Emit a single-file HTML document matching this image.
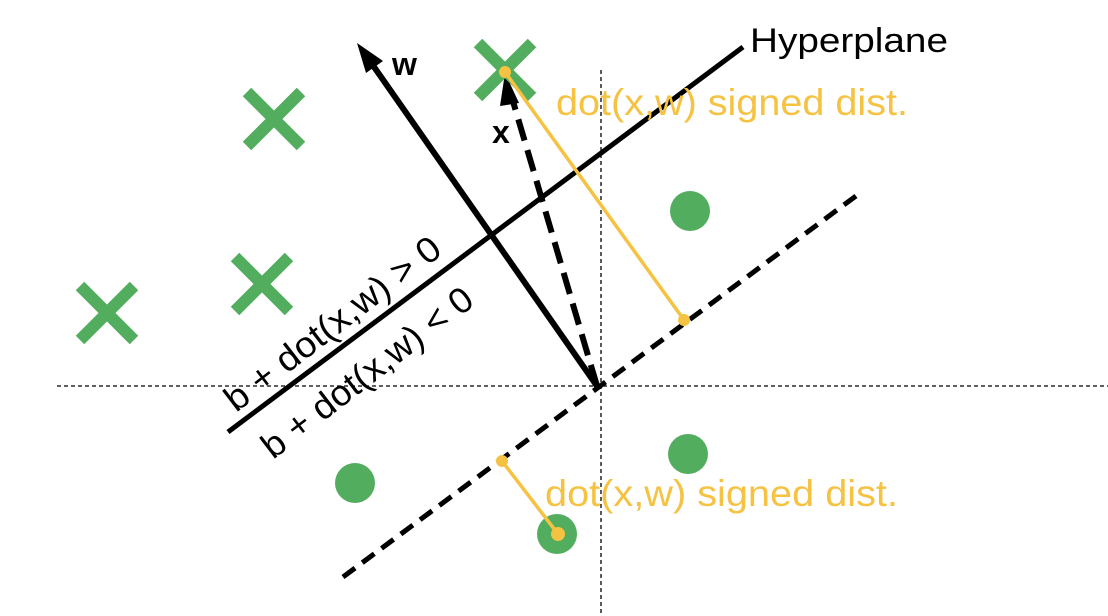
<!DOCTYPE html>
<html><head><style>html,body{margin:0;padding:0;background:#fff;}svg{display:block}</style></head>
<body>
<svg width="1108" height="616" viewBox="0 0 1108 616" xmlns="http://www.w3.org/2000/svg">
<g stroke="#000" stroke-width="1.3" stroke-dasharray="4,3">
<line x1="57" y1="386" x2="1108" y2="386"/>
<line x1="601" y1="70" x2="601" y2="616"/>
</g>
<line x1="228" y1="432" x2="743" y2="47" stroke="#000" stroke-width="5"/>
<line x1="343" y1="577" x2="860" y2="193" stroke="#000" stroke-width="5" stroke-dasharray="15,9"/>
<line x1="597" y1="386" x2="372" y2="64" stroke="#000" stroke-width="6"/>
<polygon points="357,43 383,61 366,73" fill="#000"/>
<line x1="597" y1="386" x2="512" y2="98" stroke="#000" stroke-width="6" stroke-dasharray="22,10"/>
<polygon points="505,73 519,103 500,106" fill="#000"/>
<g stroke="#52ad5e" stroke-width="12">
<path d="M247,92 L301,146 M301,92 L247,146"/>
<path d="M235,257 L289,311 M289,257 L235,311"/>
<path d="M80,286 L134,340 M134,286 L80,340"/>
<path d="M478,43 L532,97 M532,43 L478,97"/>
</g>
<g fill="#52ad5e">
<circle cx="690" cy="211" r="20"/>
<circle cx="355" cy="483" r="20"/>
<circle cx="688" cy="454" r="20"/>
<circle cx="557" cy="534" r="20"/>
</g>
<g stroke="#f5c242" stroke-width="3.5" fill="#f5c242">
<line x1="505" y1="72" x2="684" y2="320"/>
<line x1="502" y1="461" x2="558" y2="534"/>
<circle cx="505" cy="72" r="6" stroke="none"/>
<circle cx="684" cy="320" r="6" stroke="none"/>
<circle cx="502" cy="461" r="6" stroke="none"/>
<circle cx="558" cy="534" r="7" stroke="none"/>
</g>
<g font-family="Liberation Sans, sans-serif">
<text x="750" y="52" font-size="34" textLength="198" lengthAdjust="spacingAndGlyphs">Hyperplane</text>
<text x="392" y="75" font-size="32" font-weight="bold">w</text>
<text x="492" y="143" font-size="32" font-weight="bold">x</text>
<text x="556" y="115" font-size="37" fill="#f5c242" textLength="352" lengthAdjust="spacingAndGlyphs">dot(x,w) signed dist.</text>
<text x="545" y="506" font-size="37" fill="#f5c242" textLength="353" lengthAdjust="spacingAndGlyphs">dot(x,w) signed dist.</text>
<text transform="translate(236,413) rotate(-37.5)" font-size="36" textLength="262" lengthAdjust="spacingAndGlyphs">b + dot(x,w) &gt; 0</text>
<text transform="translate(273,460) rotate(-37.5)" font-size="36" textLength="256" lengthAdjust="spacingAndGlyphs">b + dot(x,w) &lt; 0</text>
</g>
</svg>
</body></html>
